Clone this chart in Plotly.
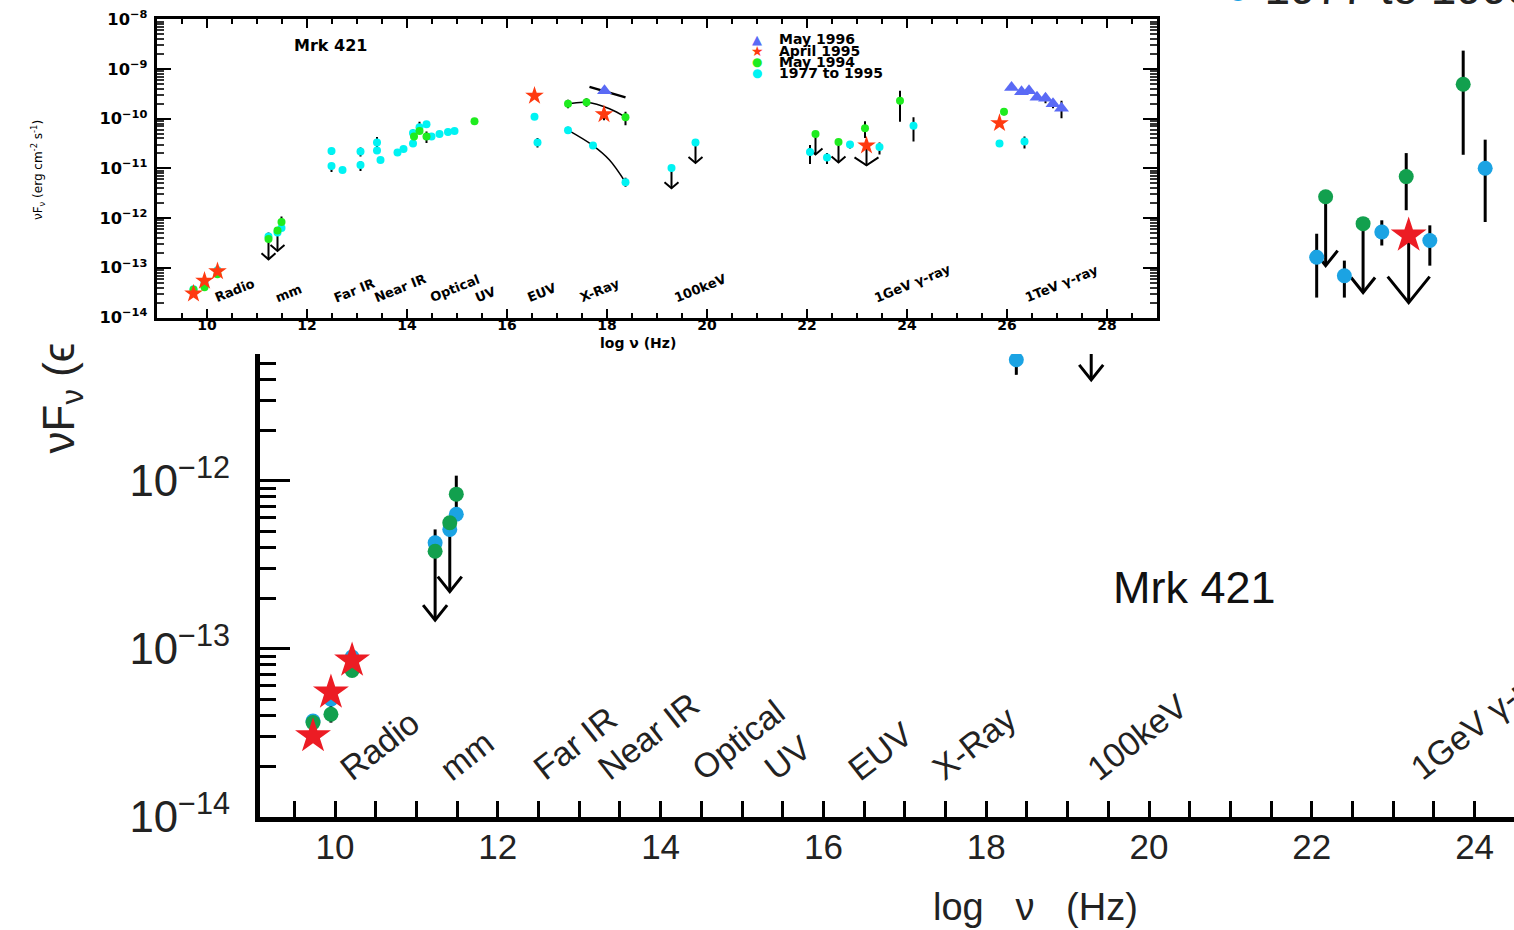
import numpy as np
import plotly.graph_objects as go

W, H = 1514, 930

# ---------------- data: log10(nu/Hz) and log10(nuFnu / erg cm^-2 s^-1) ----------------
# "1977 to 1995" archival
ARCH_X = [9.73, 9.95, 10.21, 11.23, 11.41, 11.49,
          12.49, 12.49, 12.71, 13.07, 13.07, 13.40, 13.40, 13.47, 13.81, 13.93,
          14.12, 14.12, 14.25, 14.39, 14.49, 14.65, 14.82, 14.95,
          16.55, 16.61, 17.22, 17.72, 18.37, 19.29, 19.77,
          22.06, 22.40, 22.86, 23.45, 24.13, 25.85, 26.35]
ARCH_LOGF = [-13.43, -13.30, -13.05, -12.37, -12.29, -12.20,
             -10.65, -10.95, -11.03, -10.66, -10.93, -10.48, -10.64, -10.83, -10.68, -10.61,
             -10.29, -10.50, -10.17, -10.11, -10.36, -10.31, -10.27, -10.25,
             -9.96, -10.48, -10.23, -10.54, -11.28, -10.99, -10.48,
             -10.67, -10.78, -10.52, -10.57, -10.14, -10.50, -10.46]

# "May 1994"
M94_X = [9.73, 9.95, 10.21, 11.23, 11.41, 11.49, 14.14, 14.25, 14.39, 15.35,
         17.22, 17.59, 18.37, 22.17, 22.63, 23.16, 23.86, 25.94]
M94_LOGF = [-13.44, -13.39, -13.13, -12.42, -12.25, -12.08, -10.36, -10.25, -10.36, -10.05,
            -9.70, -9.67, -9.97, -10.31, -10.47, -10.19, -9.64, -9.86]

# "April 1995"
A95_X = [9.73, 9.95, 10.21, 16.55, 17.94, 23.19, 25.85]
A95_LOGF = [-13.52, -13.26, -13.07, -9.54, -9.91, -10.54, -10.09]

# "May 1996"
M96_X = [17.95, 26.09, 26.29, 26.44, 26.60, 26.77, 26.92, 27.09]
M96_LOGF = [-9.44, -9.37, -9.46, -9.44, -9.57, -9.59, -9.70, -9.79]

# error bars (x, low, high) in log units
ERR_X = [9.95, 11.49, 12.49, 12.49, 12.71, 13.07, 13.07, 13.40, 14.12, 14.25, 14.39,
         16.61, 17.22, 17.59, 18.37, 17.94, 17.22, 18.37,
         22.06, 22.40, 22.86, 23.16, 23.45, 23.86, 24.13, 25.94, 26.35,
         26.77, 26.92, 27.09]
ERR_LO = [-13.44, -12.20, -10.73, -11.07, -11.09, -10.76, -11.05, -10.71, -10.46, -10.29, -10.49,
          -10.58, -9.79, -9.76, -10.13, -10.03, -10.31, -11.37,
          -10.91, -10.91, -10.60, -10.39, -10.72, -10.06, -10.46, -9.93, -10.60,
          -9.69, -9.79, -9.99]
ERR_HI = [-13.30, -11.97, -10.59, -10.89, -10.99, -10.58, -10.85, -10.37, -10.21, -10.06, -10.26,
          -10.39, -9.62, -9.59, -9.86, -9.82, -10.16, -11.19,
          -10.53, -10.69, -10.45, -10.05, -10.48, -9.44, -9.97, -9.79, -10.36,
          -9.50, -9.61, -9.64]

# upper limits: shaft top and arrow tip (log units)
UL_X = [11.23, 11.41, 19.29, 19.77, 22.17, 22.63, 23.19]
UL_TOP = [-12.29, -12.25, -10.99, -10.48, -10.31, -10.47, -10.54]
UL_TIP = [-12.83, -12.66, -11.40, -10.89, -10.72, -10.88, -10.94]
UL_SERIES = ["arch", "arch", "arch", "arch", "m94", "m94", "a95"]

# fitted curves drawn in the inset
CURVE94_X = [17.22, 17.59, 18.05, 18.37]
CURVE94_LOGF = [-9.70, -9.67, -9.80, -9.97]
CURVEARCH_X = [17.22, 17.72, 18.05, 18.37]
CURVEARCH_LOGF = [-10.23, -10.54, -10.83, -11.28]
LINE96_X = [17.65, 18.37]
LINE96_LOGF = [-9.36, -9.57]

# band labels (centre positions in log nu)
BAND_LABELS = ["Radio", "mm", "Far IR", "Near IR", "Optical", "UV", "EUV", "X-Ray",
               "100keV", "1GeV γ-ray", "1TeV γ-ray"]
BAND_X = [10.55, 11.62, 12.95, 13.85, 14.95, 15.57, 16.7, 17.85, 19.85, 24.1, 27.1]

LEGEND_NAMES = ["May 1996", "April 1995", "May 1994", "1977 to 1995"]

# ---------------- geometry ----------------
def px_x(p):
    return p / W

def px_y(p):
    return 1 - p / H

MAIN_LEFT_PX, MAIN_BOTTOM_PX = 260, 816.7
MAIN_X10_PX, MAIN_PX_UNIT, MAIN_PX_DEC = 335, 81.4, 168.0
main_xrange = [10 - (MAIN_X10_PX - MAIN_LEFT_PX) / MAIN_PX_UNIT,
               10 + (W - MAIN_X10_PX) / MAIN_PX_UNIT]
main_yrange = [-14, -14 + MAIN_BOTTOM_PX / MAIN_PX_DEC]

IN_L, IN_R, IN_T, IN_B = 157, 1157, 19.3, 317.5
IN_PX_UNIT = (IN_R - IN_L) / 20.0
IN_PX_DEC = (IN_B - IN_T) / 6.0

MAIN_FONT = "Liberation Sans, Arial, sans-serif"
IN_FONT = "DejaVu Sans, sans-serif"

fig = go.Figure()

STYLES = {
    "main": dict(xa="x", ya="y", sx=MAIN_PX_UNIT, sy=MAIN_PX_DEC, lw=3,
                 head=(12, 15), head_big=(21, 26),
                 arch=dict(color="#1ba3e3", size=15, symbol="circle"),
                 m94=dict(color="#12a04e", size=15, symbol="circle"),
                 a95=dict(color="#ec1c24", size=27, symbol="star"),
                 m96=dict(color="#5b6cf0", size=18, symbol="triangle-up")),
    "inset": dict(xa="x3", ya="y3", sx=IN_PX_UNIT, sy=IN_PX_DEC, lw=2,
                  head=(7, 6), head_big=(12, 8),
                  arch=dict(color="#00f3f3", size=8, symbol="circle"),
                  m94=dict(color="#1fec1f", size=8, symbol="circle"),
                  a95=dict(color="#ff3a10", size=14, symbol="star"),
                  m96=dict(color="#5a6af5", size=13, symbol="triangle-up")),
}

SERIES = [("arch", ARCH_X, ARCH_LOGF), ("m94", M94_X, M94_LOGF),
          ("a95", A95_X, A95_LOGF), ("m96", M96_X, M96_LOGF)]


def add_panel(st, curves):
    xa, ya = st["xa"], st["ya"]
    # error bars
    ex, ey = [], []
    for x, lo, hi in zip(ERR_X, ERR_LO, ERR_HI):
        ex += [x, x, None]
        ey += [10 ** lo, 10 ** hi, None]
    fig.add_trace(go.Scatter(x=ex, y=ey, mode="lines", xaxis=xa, yaxis=ya,
                             line=dict(color="black", width=st["lw"]), hoverinfo="skip"))
    # upper-limit arrows
    ax, ay = [], []
    for x, top, tip, s in zip(UL_X, UL_TOP, UL_TIP, UL_SERIES):
        wpx, hpx = st["head_big"] if s == "a95" else st["head"]
        dx, hd = wpx / st["sx"], hpx / st["sy"]
        ax += [x, x, None, x - dx, x, x + dx, None]
        ay += [10 ** top, 10 ** tip, None, 10 ** (tip + hd), 10 ** tip, 10 ** (tip + hd), None]
    fig.add_trace(go.Scatter(x=ax, y=ay, mode="lines", xaxis=xa, yaxis=ya,
                             line=dict(color="black", width=st["lw"]), hoverinfo="skip"))
    if curves:
        for cx, cy, w in [(CURVE94_X, CURVE94_LOGF, 1.5), (CURVEARCH_X, CURVEARCH_LOGF, 1.5),
                          (LINE96_X, LINE96_LOGF, 2.5)]:
            fig.add_trace(go.Scatter(x=cx, y=[10 ** v for v in cy], mode="lines",
                                     xaxis=xa, yaxis=ya, line=dict(color="black", width=w,
                                                                   shape="spline"),
                                     hoverinfo="skip"))
    for key, xs, ls in SERIES:
        m = st[key]
        fig.add_trace(go.Scatter(x=xs, y=[10 ** v for v in ls], mode="markers",
                                 xaxis=xa, yaxis=ya,
                                 marker=dict(color=m["color"], size=m["size"],
                                             symbol=m["symbol"], line=dict(width=0))))


add_panel(STYLES["main"], curves=False)
# blocker subplot (white panel behind the inset figure)
fig.add_trace(go.Scatter(x=[], y=[], xaxis="x2", yaxis="y2"))
add_panel(STYLES["inset"], curves=True)


def text_ann(text, xp, yp, size, family, color="#222", weight="normal", angle=0,
             xanchor="center", yanchor="middle"):
    return dict(text=text, x=px_x(xp), y=px_y(yp), xref="paper", yref="paper",
                xanchor=xanchor, yanchor=yanchor, textangle=angle, showarrow=False,
                font=dict(family=family, size=size, color=color, weight=weight))


ann = []
# ---- main panel text ----
for lab, bx in zip(BAND_LABELS, BAND_X):
    if bx < main_xrange[1]:
        ann.append(dict(text=lab, x=bx, xref="x", y=px_y(790), yref="paper",
                        xanchor="center", yanchor="bottom", textangle=-38, showarrow=False,
                        font=dict(family=MAIN_FONT, size=34, color="#222")))
ann.append(text_ann("Mrk 421", 1194, 587, 45, MAIN_FONT, "#111"))
ann.append(text_ann("log   ν   (Hz)", 1035, 907, 38, MAIN_FONT))
ann.append(text_ann("νF<sub>ν</sub> (ϵ", 62, 456, 44, MAIN_FONT, angle=-90, yanchor="bottom"))
ann.append(text_ann('<span style="color:#1ba3e3">●</span> 1977 to 1995', 1222, 16, 46,
                    MAIN_FONT, xanchor="left", yanchor="bottom"))

# ---- inset text ----
for lab, bx in zip(BAND_LABELS, BAND_X):
    ann.append(dict(text=lab, x=bx, xref="x3", y=px_y(308), yref="paper",
                    xanchor="center", yanchor="bottom", textangle=-22, showarrow=False,
                    font=dict(family=IN_FONT, size=13, color="black", weight="bold")))
ann.append(text_ann("Mrk 421", 330, 46, 16, IN_FONT, "black", "bold"))
ann.append(text_ann("log ν (Hz)", 638, 343, 14, IN_FONT, "black", "bold"))
ann.append(text_ann("νF<sub>ν</sub> (erg cm<sup>-2</sup> s<sup>-1</sup>)", 38, 170, 12, IN_FONT,
                    "black", angle=-90))
leg_sym = [("▲", STYLES["inset"]["m96"]["color"], 13), ("★", STYLES["inset"]["a95"]["color"], 14),
           ("●", STYLES["inset"]["m94"]["color"], 12), ("●", STYLES["inset"]["arch"]["color"], 12)]
leg_rows_px = [39, 50.5, 62, 73.5]
for name, (sym, col, fs), ry in zip(LEGEND_NAMES, leg_sym, leg_rows_px):
    ann.append(text_ann(sym, 757, ry, fs, IN_FONT, col))
    ann.append(text_ann(name, 777, ry, 14, IN_FONT, "black", "bold", xanchor="left"))

fig.update_layout(
    width=W, height=H, margin=dict(l=0, r=0, t=0, b=0, autoexpand=False),
    paper_bgcolor="white", plot_bgcolor="white", showlegend=False,
    annotations=ann,
    xaxis=dict(domain=[px_x(MAIN_LEFT_PX), 1], range=main_xrange, anchor="y", automargin=False,
               tickmode="linear", tick0=10, dtick=2, ticks="inside", ticklen=16, tickwidth=3,
               tickcolor="black",
               minor=dict(tickmode="linear", tick0=10, dtick=0.5, ticks="inside", ticklen=16,
                          tickwidth=3, tickcolor="black", showgrid=False),
               showline=True, linewidth=5, linecolor="black", showgrid=False, zeroline=False,
               tickfont=dict(family=MAIN_FONT, size=35, color="#222"), ticklabelstandoff=-5),
    yaxis=dict(domain=[px_y(MAIN_BOTTOM_PX), 1], range=main_yrange, type="log", anchor="x",
               automargin=False,
               dtick=1, exponentformat="power", showexponent="all",
               ticks="inside", ticklen=30, tickwidth=3, tickcolor="black",
               minor=dict(dtick="D1", ticks="inside", ticklen=16, tickwidth=3,
                          tickcolor="black", showgrid=False),
               showline=True, linewidth=5, linecolor="black", showgrid=False, zeroline=False,
               tickfont=dict(family=MAIN_FONT, size=35, color="#222"), ticklabelstandoff=18),
    xaxis2=dict(domain=[0, px_x(1166)], anchor="y2", visible=False, range=[0, 1],
                automargin=False),
    yaxis2=dict(domain=[px_y(354), 1], anchor="x2", visible=False, range=[0, 1],
                automargin=False),
    xaxis3=dict(domain=[px_x(IN_L), px_x(IN_R)], range=[9, 29], anchor="y3", automargin=False,
                tickmode="linear", tick0=10, dtick=2, ticks="inside", ticklen=9, tickwidth=2,
                tickcolor="black",
                minor=dict(tickmode="linear", tick0=10, dtick=0.5, ticks="inside", ticklen=5,
                           tickwidth=2, tickcolor="black", showgrid=False),
                mirror="allticks", showline=True, linewidth=3, linecolor="black",
                showgrid=False, zeroline=False, ticklabelstandoff=-7,
                tickfont=dict(family=IN_FONT, size=14, color="black", weight="bold")),
    yaxis3=dict(domain=[px_y(IN_B), px_y(IN_T)], range=[-14, -8], type="log", anchor="x3",
                automargin=False,
                dtick=1, exponentformat="power", showexponent="all",
                ticks="inside", ticklen=14, tickwidth=2, tickcolor="black",
                minor=dict(dtick="D1", ticks="inside", ticklen=7, tickwidth=1.5,
                           tickcolor="#333", showgrid=False),
                mirror="allticks", showline=True, linewidth=3, linecolor="black",
                showgrid=False, zeroline=False, ticklabelstandoff=4,
                tickfont=dict(family=IN_FONT, size=13, color="black", weight="bold")),
)

fig.write_html("out.html")
